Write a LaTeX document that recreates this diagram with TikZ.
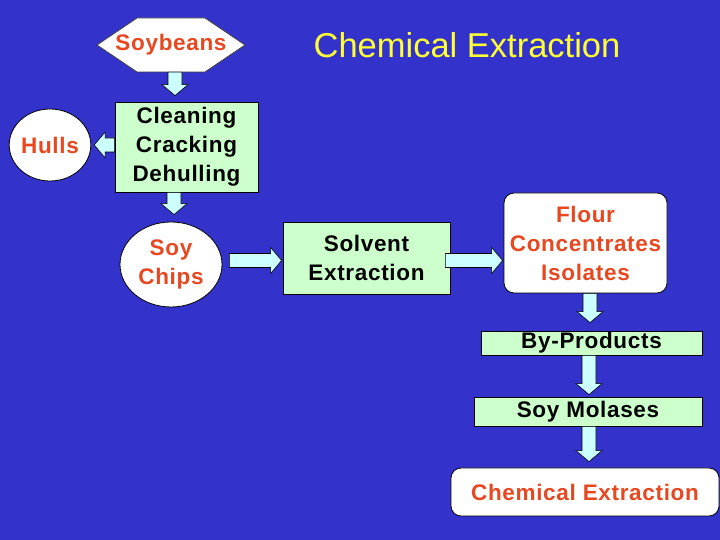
\documentclass[tikz,border=0pt]{standalone}
\usepackage{fontspec}
\setmainfont{Liberation Sans}
\newfontfamily\boxfont{Liberation Sans}[LetterSpace=3]
\usetikzlibrary{calc, shapes.geometric}
\definecolor{SlideBlue}{RGB}{51, 51, 204}
\definecolor{BoxGreen}{RGB}{204, 255, 204}
\definecolor{ArrCyan}{RGB}{204, 255, 255}
\definecolor{TextRed}{RGB}{232, 72, 32}
\definecolor{TitleYellow}{RGB}{255, 255, 51}

\begin{document}
\begin{tikzpicture}[x=1bp, y=1bp,
  txt/.style={font=\boxfont\fontsize{22.5bp}{29bp}\selectfont\bfseries, align=center, inner sep=0pt},
  gbox/.style={txt, draw=black, line width=0.8bp, fill=BoxGreen},
  wbox/.style={txt, draw=black, line width=0.8bp, fill=white, rounded corners=10bp, text=TextRed},
  oval/.style={txt, ellipse, draw=black, line width=0.8bp, fill=white, text=TextRed},
  hexline/.style={draw=black!75, line width=0.8bp, fill=white},
  lab/.style={font=\fontsize{34.5bp}{40bp}\selectfont, text=TitleYellow, inner sep=0pt},
  barrow/.style={draw=black, line width=0.6bp, fill=ArrCyan, line join=miter,
    to path={let \p1=(\tikztostart), \p2=(\tikztotarget),
      \n1={atan2(\y2-\y1,\x2-\x1)}, \n2={veclen(\x2-\x1,\y2-\y1)-11} in
      ($(\p1)+(\n1+90:7bp)$) -- ++(\n1:\n2) -- ++(\n1+90:6bp) -- (\p2)
      -- ($(\p1)+(\n1:\n2)+(\n1-90:13bp)$) -- ++(\n1+90:6bp)
      -- ($(\p1)+(\n1-90:7bp)$) -- cycle}}]
\fill[SlideBlue] (0,0) rectangle (720,540);
\useasboundingbox (0,0) rectangle (720,540);
% left column
\coordinate (bc) at (171,495);
\filldraw[hexline] ($(bc)+(-74,0)$) -- ($(bc)+(-34,27)$) -- ($(bc)+(34,27)$) -- ($(bc)+(74,0)$)
  -- ($(bc)+(34,-27)$) -- ($(bc)+(-34,-27)$) -- cycle;
\node[txt, text=TextRed, minimum width=148bp, minimum height=54bp] (beans) at (bc) {Soybeans};
\node[lab] (title) at (467,495) {Chemical Extraction};
\node[gbox, minimum width=143bp, minimum height=90bp] (clean) at (186.5,393) {Cleaning\\Cracking\\Dehulling};
\node[oval, minimum width=64bp, minimum height=72bp] (hulls) at (50,395) {Hulls};
\node[oval, minimum width=102bp, minimum height=85bp] (chips) at (171,275.5) {Soy\\Chips};
% middle and right
\node[gbox, minimum width=167bp, minimum height=72bp] (solvent) at (366.5,282) {Solvent\\Extraction};
\node[wbox, minimum width=163bp, minimum height=100bp] (flour) at (585.5,297) {Flour\\Concentrates\\Isolates};
\node[gbox, minimum width=221bp, minimum height=24bp] (byprod) at (591.5,197) {By-Products};
\node[gbox, minimum width=228bp, minimum height=29bp] (molases) at (588,128.5) {Soy Molases};
\node[wbox, minimum width=268bp, minimum height=48bp] (chem) at (585,48) {Chemical Extraction};
% block arrows
\draw[barrow] ([xshift=4bp]beans.south) to ([xshift=-11.5bp, yshift=6bp]clean.north);
\draw[barrow] ([yshift=2bp]clean.west) to ([xshift=3bp]hulls.east);
\draw[barrow] ([xshift=-12.5bp]clean.south) to ([xshift=3bp, yshift=7bp]chips.north);
\draw[barrow] ([xshift=7bp, yshift=4bp]chips.east) to ([xshift=-1bp, yshift=-2.5bp]solvent.west);
\draw[barrow] ([xshift=-5bp, yshift=-2.5bp]solvent.east) to ([xshift=-1bp, yshift=-17.5bp]flour.west);
\draw[barrow] ([xshift=4.5bp]flour.south) to ([xshift=-1.5bp, yshift=8bp]byprod.north);
\draw[barrow] ([xshift=-2.5bp]byprod.south) to ([xshift=1bp, yshift=2bp]molases.north);
\draw[barrow] ([xshift=1bp]molases.south) to ([xshift=4bp, yshift=6bp]chem.north);
\end{tikzpicture}
\end{document}
